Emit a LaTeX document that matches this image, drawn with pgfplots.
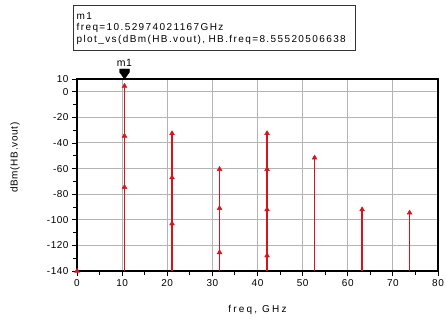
\documentclass[border=0pt]{standalone}
\usepackage{fontspec}
\setmainfont{Liberation Sans}[LetterSpace=5]
\newfontfamily\boxfont{Liberation Sans}[LetterSpace=14]
\newfontfamily\xlabfont{Liberation Sans}[LetterSpace=22]
\newfontfamily\ylabfont{Liberation Sans}[LetterSpace=7]
\usepackage{pgfplots}
\pgfplotsset{compat=1.18}
\definecolor{adsred}{RGB}{215,20,30}
\definecolor{labred}{RGB}{195,25,45}
\definecolor{gridgray}{RGB}{180,180,180}
\pgfdeclareplotmark{mkdown}{%
  \pgfpathmoveto{\pgfpoint{0pt}{0pt}}%
  \pgfpathlineto{\pgfpoint{-5pt}{7pt}}%
  \pgfpathlineto{\pgfpoint{-5pt}{10pt}}%
  \pgfpathlineto{\pgfpoint{5pt}{10pt}}%
  \pgfpathlineto{\pgfpoint{5pt}{7pt}}%
  \pgfpathclose\pgfusepathqfillstroke}
\pgfplotstableread{
x y
10.53 -140
10.53 4.5
10.53 nan
21.06 -140
21.06 -32.5
21.06 nan
31.59 -140
31.59 -60.5
31.59 nan
42.12 -140
42.12 -32.5
42.12 nan
52.65 -140
52.65 -51.5
52.65 nan
63.18 -140
63.18 -92
63.18 nan
73.71 -140
73.71 -94.5
}\lines
\pgfplotstableread{
x y
0 -140
10.53 4.5
10.53 -34.5
10.53 -74.5
21.06 -32.5
21.06 -67
21.06 -103
31.59 -60.5
31.59 -91
31.59 -125.5
42.12 -32.5
42.12 -60.5
42.12 -92
42.12 -128
52.65 -51.5
63.18 -92
73.71 -94.5
}\marks
\begin{document}
\begin{tikzpicture}[x=1pt,y=1pt]
\path[use as bounding box] (-77,-60) rectangle (369,271);
\begin{axis}[at={(0,0)}, anchor=south west, scale only axis,
  width=361pt, height=192pt,
  xmin=0, xmax=80, ymin=-140, ymax=10,
  xtick={0,10,...,80}, minor xtick={5,15,...,75},
  ytick={10,0,-20,-40,-60,-80,-100,-120,-140}, minor ytick={-10,-30,-50,-70,-90,-110,-130},
  xtick pos=bottom, ytick pos=left,
  tick align=outside, major tick length=5pt, minor tick length=4pt,
  tick style={black, line width=0.9pt},
  xmajorgrids, ymajorgrids, grid style={gridgray, line width=1pt},
  axis line style={black, line width=1.1pt},
  /pgf/number format/assume math mode=true,
  tick label style={font=\fontsize{10}{12}\selectfont},
  xlabel={\xlabfont freq, GHz}, ylabel={\ylabfont dBm(HB.vout)},
  label style={font=\fontsize{10}{12}\selectfont, text=labred},
  every axis x label/.style={at={(axis description cs:0.5,0)}, yshift=-39pt, anchor=center},
  every axis y label/.style={at={(axis description cs:0,0.59)}, xshift=-62pt, anchor=center, rotate=90},
  clip=false,
]
\addplot[adsred, line width=1.5pt, unbounded coords=jump] table[x=x,y=y] {\lines};
\addplot[only marks, mark=triangle*, mark size=2.8pt, adsred] table[x=x,y=y] {\marks};
\addplot[only marks, mark=mkdown, black, nodes near coords={m1},
  every node near coord/.append style={anchor=south, yshift=9pt, font=\fontsize{10.5}{12}\selectfont, text=black}]
  coordinates {(10.53,10)};
\end{axis}
\node[draw=black!80, line width=1.3pt, anchor=north west, align=left, inner xsep=2pt, inner ysep=1.5pt,
  minimum width=282pt, minimum height=45pt, text width=276pt,
  font=\fontsize{10}{11.5}\selectfont\boxfont] at (-4,266)
  {m1\\freq=10.52974021167GHz\\plot\_vs(dBm(HB.vout), HB.freq=8.55520506638};
\end{tikzpicture}
\end{document}
